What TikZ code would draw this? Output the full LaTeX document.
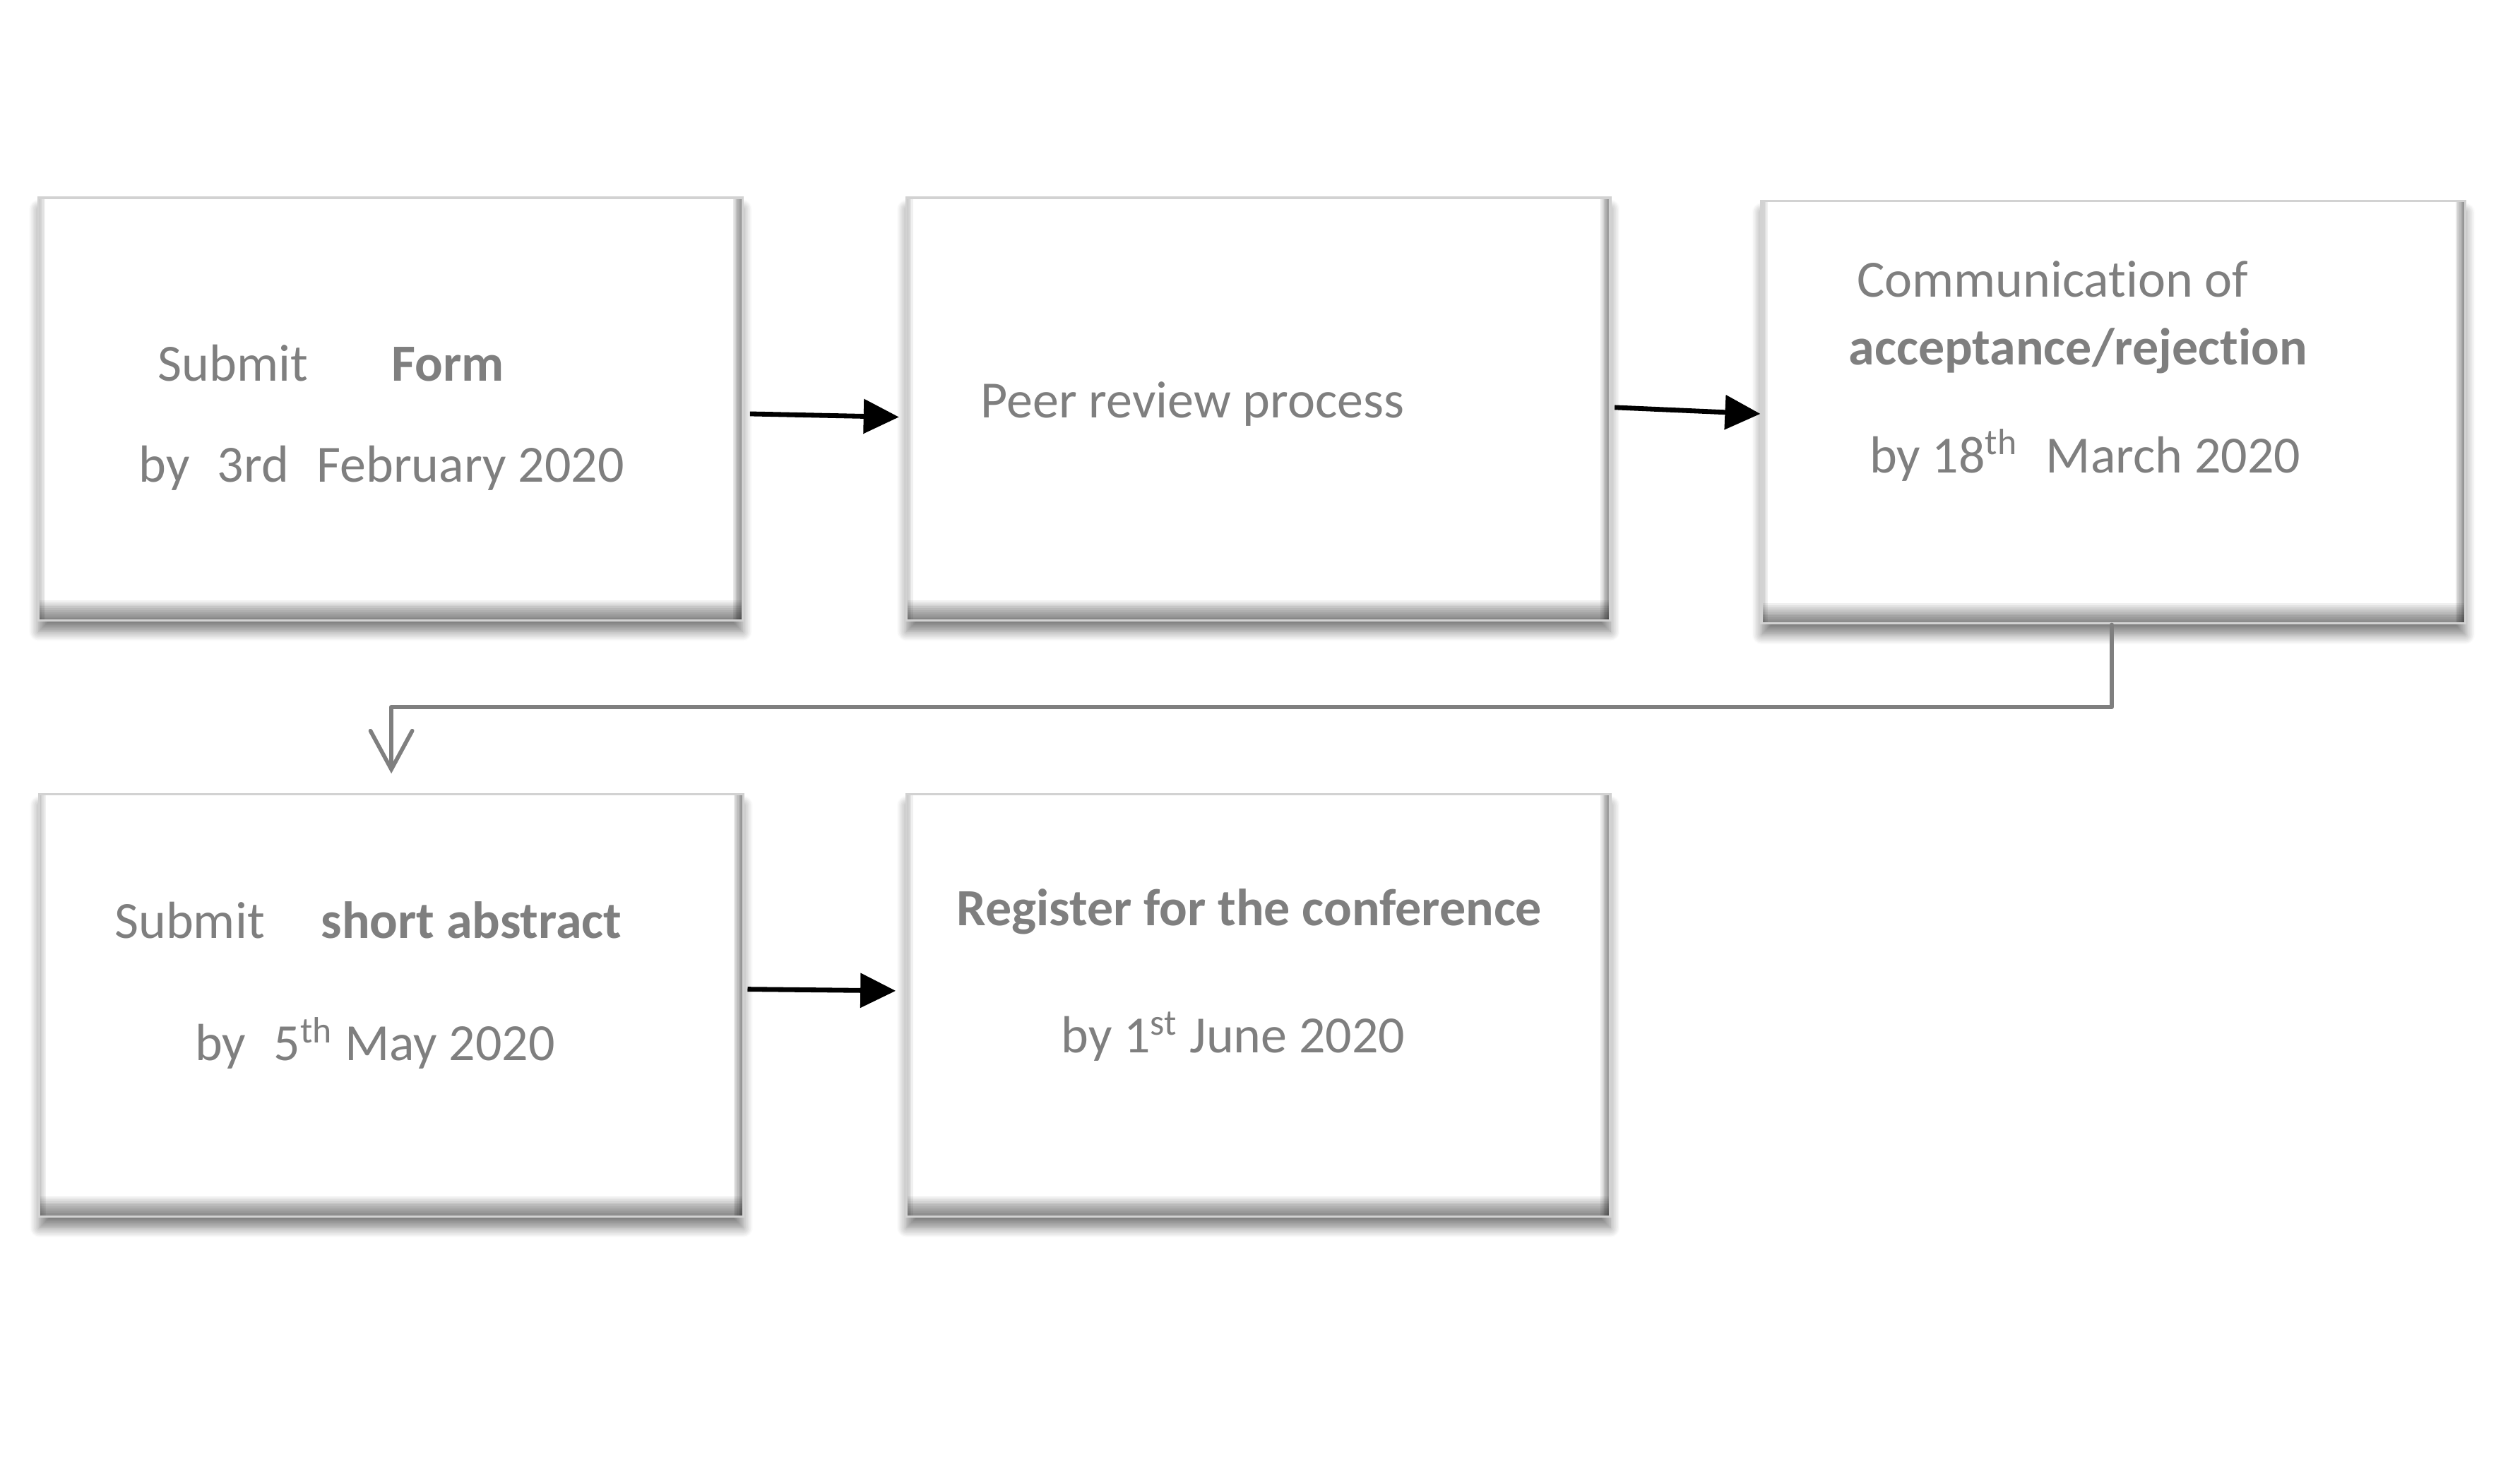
\documentclass[tikz,border=0pt]{standalone}
\usepackage{fontspec}
\setmainfont{Carlito}[Ligatures=NoCommon]
\usetikzlibrary{arrows.meta,shadows.blur,calc}
\definecolor{txtgray}{RGB}{127,127,127}
\definecolor{edgegray}{RGB}{210,210,210}
\tikzset{
  stagebox/.style={draw=edgegray, line width=0.8pt, fill=white,
    minimum width=8.76cm, minimum height=5.26cm, inner sep=0pt,
    blur shadow={shadow xshift=0pt, shadow yshift=-0.14cm, shadow opacity=50,
      shadow blur radius=0.12cm, shadow blur steps=10},
    path picture={
      % bevel at the bottom, the right and the left edge
      \foreach \k in {1,...,10}
        \fill[black, opacity=0.06] (path picture bounding box.south west)
          rectangle ([yshift=0.025*\k cm]path picture bounding box.south east);
      \foreach \k in {1,...,6}
        \fill[black, opacity=0.09] ([xshift=-0.02*\k cm]path picture bounding box.north east)
          rectangle (path picture bounding box.south east);
      \foreach \k in {1,...,4}
        \fill[black, opacity=0.06] (path picture bounding box.north west)
          rectangle ([xshift=0.02*\k cm]path picture bounding box.south west);
    }},
  stagetext/.style={anchor=base west, inner sep=0pt, text=txtgray,
    font=\fontsize{18.5}{22}\selectfont},
  flowarrow/.style={line width=0.06cm, -{Triangle[length=0.44cm,width=0.42cm]}},
  elbowline/.style={draw=txtgray, line width=0.05cm, line cap=round, line join=round,
    -{Straight Barb[length=0.48cm,width=0.52cm,line cap=round]}}
}
\begin{document}
\begin{tikzpicture}[x=0.02cm, y=-0.02cm]
  \useasboundingbox (0,0) rectangle (1568,917);
  % stages
  \node[stagebox] (form) at (243,254.5) {};
  \node[stagebox] (review) at (783,254.5) {};
  \node[stagebox] (decision) at (1315,256.5) {};
  \node[stagebox] (abstract) at (243.5,625.5) {};
  \node[stagebox] (register) at (783,625.5) {};
  % texts
  \node[stagetext] (formA) at (98,237) {Submit\hspace{1.04cm}\textbf{Form}};
  \node[stagetext] (formB) at (86,300) {by\hspace{0.2cm} 3rd\hspace{0.2cm} February 2020};
  \node[stagetext] (reviewA) at (610,260) {Peer review process};
  \node[stagetext] (decisionA) at (1155,185) {Communication of};
  \node[stagetext] (decisionB) at (1150,227) {\textbf{acceptance/rejection}};
  \node[stagetext] (decisionC) at (1163,294) {by 18\textsuperscript{th}\hspace{0.2cm} March 2020};
  \node[stagetext] (abstractA) at (71,584) {Submit\hspace{0.7cm}\textbf{short abstract}};
  \node[stagetext] (abstractB) at (121,660) {by\hspace{0.2cm} 5\textsuperscript{th} May 2020};
  \node[stagetext] (registerA) at (595,576) {\textbf{Register for the conference}};
  \node[stagetext] (registerB) at (660,655) {by 1\textsuperscript{st} June 2020};
  % connectors
  \coordinate (bend) at (0,440);
  \draw[flowarrow] ([xshift=0.08cm,yshift=-0.06cm]form.east) -- ([xshift=-0.08cm,yshift=-0.1cm]review.west);
  \draw[flowarrow] ([xshift=0.04cm,yshift=0.02cm]review.east) -- ([yshift=-0.02cm]decision.west);
  \draw[elbowline] ([xshift=-0.02cm]decision.south) -- ([xshift=-0.02cm]decision.south |- bend)
    -- (abstract.north |- bend) -- ([yshift=0.24cm]abstract.north);
  \draw[flowarrow] ([xshift=0.04cm,yshift=0.2cm]abstract.east) -- ([xshift=-0.12cm,yshift=0.18cm]register.west);
\end{tikzpicture}
\end{document}
